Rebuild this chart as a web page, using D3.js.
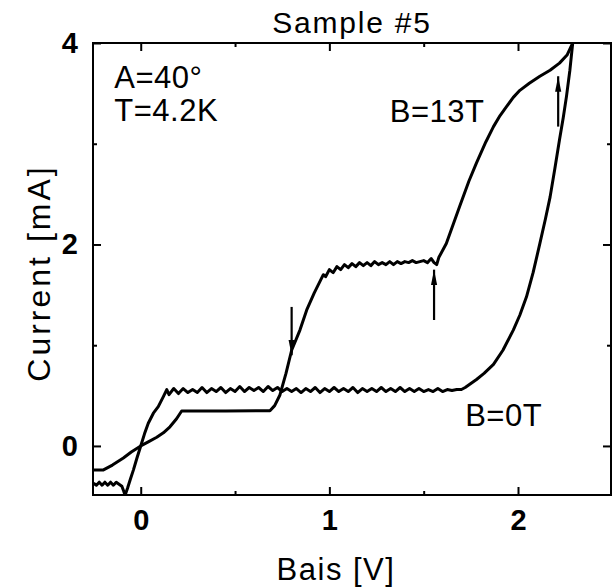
<!DOCTYPE html>
<html><head><meta charset="utf-8">
<script src="https://cdn.jsdelivr.net/npm/d3@7"></script>
<style>
html,body{margin:0;padding:0;background:#fff;}
svg text{font-family:"Liberation Sans","Noto Sans",sans-serif;fill:#000;}
</style></head>
<body><svg id="c" width="612" height="588"></svg>
<script>
// ---- data ----
const b0V = [-0.25,-0.235,-0.22,-0.205,-0.19,-0.175,-0.16,-0.145,-0.13,-0.115,-0.1,-0.09,-0.083,-0.07,-0.055,-0.039,-0.02,0,0.02,0.04,0.067,0.093,0.12,0.138,
 0.15,0.175,0.2,0.225,0.25,0.275,0.3,0.325,0.35,0.375,0.4,0.425,0.45,0.475,0.5,0.525,0.55,0.575,0.6,0.625,0.65,0.675,0.7,0.725,0.75,0.775,0.8,0.825,0.85,0.875,0.9,0.925,0.95,0.975,1.0,1.025,1.05,1.075,1.1,1.125,1.15,1.175,1.2,1.225,1.25,1.275,1.3,1.325,1.35,1.375,1.4,1.425,1.45,1.475,1.5,1.525,1.55,1.575,1.6,1.625,1.65,1.675,1.7,1.72,
 1.75,1.78,1.82,1.87,1.92,1.975,2.01,2.045,2.08,2.116,2.145,2.17,2.195,2.22,2.24,2.257,2.275,2.29];
const b0I = [-0.37,-0.39,-0.36,-0.39,-0.36,-0.39,-0.36,-0.39,-0.36,-0.38,-0.4,-0.45,-0.49,-0.42,-0.33,-0.24,-0.12,0,0.12,0.225,0.325,0.39,0.49,0.56,
 0.51,0.57,0.52,0.57,0.53,0.56,0.53,0.58,0.53,0.57,0.54,0.58,0.53,0.57,0.54,0.59,0.54,0.58,0.55,0.58,0.54,0.59,0.55,0.58,0.54,0.57,0.54,0.57,0.53,0.57,0.54,0.58,0.53,0.57,0.54,0.58,0.54,0.57,0.54,0.58,0.53,0.57,0.54,0.57,0.54,0.58,0.54,0.57,0.54,0.58,0.54,0.57,0.54,0.57,0.54,0.56,0.54,0.57,0.54,0.56,0.55,0.56,0.56,0.58,
 0.62,0.66,0.72,0.81,0.95,1.15,1.3,1.48,1.72,2.01,2.25,2.47,2.75,3.04,3.26,3.47,3.73,4.0];
const b13V = [-0.253,-0.2,-0.15,-0.092,-0.05,0,0.04,0.085,0.12,0.155,0.19,0.217,0.45,0.685,0.71,0.738,0.77,0.8,0.844,0.88,0.92,0.968,
 0.98,1.0,1.02,1.04,1.06,1.08,1.1,1.12,1.14,1.16,1.18,1.2,1.22,1.24,1.26,1.28,1.3,1.32,1.34,1.36,1.38,1.4,1.42,1.44,1.46,1.48,1.5,1.52,1.54,1.555,1.569,
 1.58,1.62,1.69,1.74,1.78,1.83,1.87,1.905,1.94,1.975,2.01,2.06,2.116,2.17,2.22,2.26,2.29];
const b13I = [-0.24,-0.24,-0.19,-0.12,-0.06,0,0.04,0.086,0.13,0.19,0.27,0.347,0.347,0.35,0.4,0.506,0.72,0.95,1.15,1.35,1.52,1.7,
 1.68,1.75,1.72,1.78,1.75,1.8,1.77,1.81,1.78,1.82,1.79,1.82,1.79,1.83,1.8,1.82,1.8,1.83,1.8,1.83,1.81,1.83,1.82,1.84,1.82,1.83,1.84,1.82,1.86,1.82,1.8,
 1.87,2.01,2.375,2.63,2.81,3.02,3.17,3.28,3.37,3.46,3.53,3.6,3.67,3.73,3.8,3.88,4.0];
const xTicks = [0,1,2];
const yTicks = [0,2,4];
const xMinor = [0.5,1.5];
const yMinor = [1,3];
const arrowV = [0.80,1.555,2.213];
const arrowFrom = [1.38,1.25,3.17];
const arrowTo = [0.90,1.75,3.67];
const labels = [{t:"A=40°",v:-0.14,i:3.55},{t:"T=4.2K",v:-0.14,i:3.23},{t:"B=13T",v:1.32,i:3.22},{t:"B=0T",v:1.72,i:0.2}];

// ---- layout ----
const L=93,R=611,T=43,B=495;
const x=d3.scaleLinear().domain([-0.253,2.493]).range([L,R]);
const y=d3.scaleLinear().domain([-0.487,4]).range([B,T]);
const svg=d3.select("#c");

const defs=svg.append("defs");
defs.append("clipPath").attr("id","clip").append("rect").attr("x",L).attr("y",T).attr("width",R-L).attr("height",B-T);
defs.append("marker").attr("id","ah").attr("viewBox","0 0 10 10").attr("refX",10).attr("refY",5)
 .attr("markerWidth",7).attr("markerHeight",7).attr("orient","auto").attr("markerUnits","strokeWidth")
 .append("path").attr("d","M0,3 L10,5 L0,7 Z").attr("fill","#000");

// axes
const g=svg.append("g");
function axisGroup(axis,tr){return g.append("g").attr("transform",tr).call(axis);}
axisGroup(d3.axisBottom(x).tickValues(xTicks).tickSizeInner(-8).tickSizeOuter(0).tickPadding(14).tickFormat(d3.format("d")),`translate(0,${B})`);
axisGroup(d3.axisBottom(x).tickValues(xMinor).tickSizeInner(-4).tickSizeOuter(0).tickFormat(""),`translate(0,${B})`);
axisGroup(d3.axisTop(x).tickValues(xTicks).tickSizeInner(-8).tickSizeOuter(0).tickFormat(""),`translate(0,${T})`);
axisGroup(d3.axisTop(x).tickValues(xMinor).tickSizeInner(-4).tickSizeOuter(0).tickFormat(""),`translate(0,${T})`);
axisGroup(d3.axisLeft(y).tickValues(yTicks).tickSizeInner(-8).tickSizeOuter(0).tickPadding(15).tickFormat(d3.format("d")),`translate(${L},0)`);
axisGroup(d3.axisLeft(y).tickValues(yMinor).tickSizeInner(-4).tickSizeOuter(0).tickFormat(""),`translate(${L},0)`);
axisGroup(d3.axisRight(y).tickValues(yTicks).tickSizeInner(-8).tickSizeOuter(0).tickFormat(""),`translate(${R},0)`);
axisGroup(d3.axisRight(y).tickValues(yMinor).tickSizeInner(-4).tickSizeOuter(0).tickFormat(""),`translate(${R},0)`);
g.selectAll(".domain").remove();
g.selectAll(".tick line").attr("stroke","#000").attr("stroke-width",2);
g.selectAll(".tick text").attr("font-size",29).attr("font-weight","bold").attr("fill","#000");
svg.append("rect").attr("x",L).attr("y",T).attr("width",R-L).attr("height",B-T).attr("fill","none").attr("stroke","#000").attr("stroke-width",2);

// curves
const line=d3.line().x(d=>x(d[0])).y(d=>y(d[1]));
const cg=svg.append("g").attr("clip-path","url(#clip)");
[[b0V,b0I],[b13V,b13I]].forEach(([vs,is])=>{
  cg.append("path").datum(vs.map((v,k)=>[v,is[k]])).attr("d",line)
   .attr("fill","none").attr("stroke","#000").attr("stroke-width",3).attr("stroke-linejoin","round");
});

// arrows
arrowV.forEach((v,k)=>{
  svg.append("line").attr("x1",x(v)).attr("x2",x(v)).attr("y1",y(arrowFrom[k])).attr("y2",y(arrowTo[k]))
   .attr("stroke","#000").attr("stroke-width",2.2).attr("marker-end","url(#ah)");
});

// texts
labels.forEach(l=>{
  svg.append("text").attr("x",x(l.v)).attr("y",y(l.i)).attr("font-size",31).attr("letter-spacing",0.5).text(l.t);
});
svg.append("text").attr("x",(L+R)/2).attr("y",33).attr("text-anchor","middle").attr("font-size",30).attr("letter-spacing",1.8).text("Sample #5");
svg.append("text").attr("x",(L+R)/2-16).attr("y",580).attr("text-anchor","middle").attr("font-size",31).attr("letter-spacing",1.5).text("Bais [V]");
svg.append("text").attr("transform",`translate(50,${(T+B)/2+4}) rotate(-90)`).attr("text-anchor","middle").attr("font-size",32).attr("letter-spacing",3).text("Current [mA]");
</script></body></html>
